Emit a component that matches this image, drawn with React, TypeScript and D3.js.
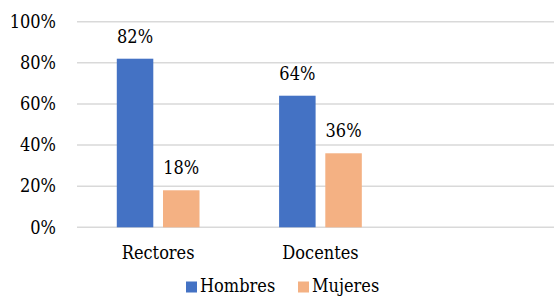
import { useRef, useEffect } from "react";
import * as d3 from "d3";

const categories = ["Rectores", "Docentes"];
const seriesNames = ["Hombres", "Mujeres"];
const hombres = [82, 64];
const mujeres = [18, 36];
const yTicks = [0, 20, 40, 60, 80, 100];
const colors = ["#4472C4", "#F4B183"];

const W = 554;
const H = 296;

const App = () => {
  const svgRef = useRef<SVGSVGElement>(null);

  useEffect(() => {
    const svg = d3.select(svgRef.current);
    svg.selectAll("*").remove();

    const left = 77;
    const bandW = 162.3;

    const x = d3
      .scaleBand()
      .domain(categories)
      .range([left, left + bandW * categories.length])
      .paddingInner(0)
      .paddingOuter(0);

    const xInner = d3
      .scaleBand()
      .domain(seriesNames)
      .range([0, bandW])
      .paddingInner(0.21)
      .paddingOuter(0.861);

    const y = d3.scaleLinear().domain([0, 100]).range([227.3, 21.7]);

    // gridlines
    svg
      .append("g")
      .selectAll("line")
      .data(yTicks)
      .enter()
      .append("line")
      .attr("x1", left)
      .attr("x2", W)
      .attr("y1", (d) => y(d))
      .attr("y2", (d) => y(d))
      .attr("stroke", "#D9D9D9")
      .attr("stroke-width", 1.5);

    // y tick labels
    svg
      .append("g")
      .selectAll("text")
      .data(yTicks)
      .enter()
      .append("text")
      .attr("x", 56)
      .attr("y", (d) => y(d))
      .attr("dy", "0.35em")
      .attr("text-anchor", "end")
      .text((d) => d + "%");

    const rows = categories.map((c, i) => ({
      cat: c,
      vals: [
        { s: seriesNames[0], v: hombres[i] },
        { s: seriesNames[1], v: mujeres[i] },
      ],
    }));

    const groups = svg
      .append("g")
      .selectAll("g")
      .data(rows)
      .enter()
      .append("g")
      .attr("transform", (d) => `translate(${x(d.cat)},0)`);

    groups
      .selectAll("rect")
      .data((d) => d.vals)
      .enter()
      .append("rect")
      .attr("x", (d) => xInner(d.s)!)
      .attr("y", (d) => y(d.v))
      .attr("width", xInner.bandwidth())
      .attr("height", (d) => y(0) - y(d.v))
      .attr("fill", (d, i) => colors[i]);

    groups
      .selectAll("text")
      .data((d) => d.vals)
      .enter()
      .append("text")
      .attr("x", (d) => xInner(d.s)! + xInner.bandwidth() / 2)
      .attr("y", (d) => y(d.v) - 16)
      .attr("text-anchor", "middle")
      .text((d) => d.v + "%");

    // category labels
    svg
      .append("g")
      .selectAll("text")
      .data(categories)
      .enter()
      .append("text")
      .attr("x", (d) => x(d)! + bandW / 2)
      .attr("y", 259)
      .attr("text-anchor", "middle")
      .text((d) => d);

    // legend
    const legendX = [186, 298];
    const legend = svg
      .append("g")
      .selectAll("g")
      .data(seriesNames)
      .enter()
      .append("g")
      .attr("transform", (d, i) => `translate(${legendX[i]},0)`);

    legend
      .append("rect")
      .attr("x", 0)
      .attr("y", 281.5)
      .attr("width", 11)
      .attr("height", 11)
      .attr("fill", (d, i) => colors[i]);

    legend
      .append("text")
      .attr("x", 14)
      .attr("y", 292)
      .text((d) => d);
  }, []);

  return (
    <svg
      ref={svgRef}
      width={W}
      height={H}
      style={{
        position: "absolute",
        left: 0,
        top: 0,
        background: "#fff",
        fontFamily: "'DejaVu Serif Condensed', 'DejaVu Serif', serif",
        fontSize: 18,
        fill: "#000",
      }}
    ></svg>
  );
};

export default App;
